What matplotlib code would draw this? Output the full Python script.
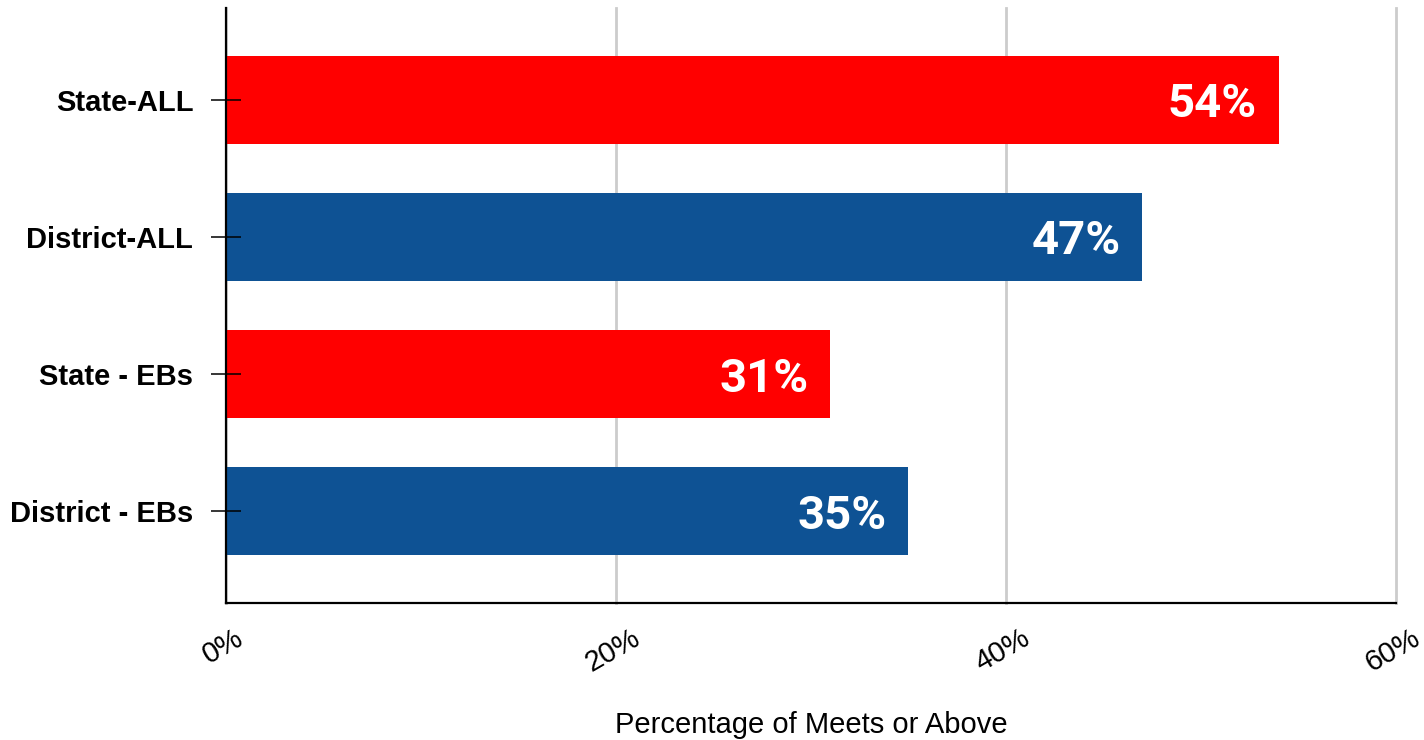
import matplotlib.pyplot as plt
from matplotlib.ticker import FuncFormatter
import matplotlib.transforms as mtransforms

# ── Data ──────────────────────────────────────────────────────────────────────
groups = ["State-ALL", "District-ALL", "State - EBs", "District - EBs"]
pct_meets = [54, 47, 31, 35]
bar_colors = ["#FF0000", "#0E5294", "#FF0000", "#0E5294"]
x_ticks = [0, 20, 40, 60]

fig = plt.figure(figsize=(14.24, 7.40), dpi=100)
ax = fig.add_axes([0.1587, 0.1851, 0.8216, 0.8041])

y_pos = list(range(len(groups)))
ax.barh(y_pos, pct_meets, height=0.64, color=bar_colors, zorder=3)

# value labels inside the bar ends
for y, v in zip(y_pos, pct_meets):
    ax.annotate(f"{v}%", xy=(v, y), xytext=(-22, 0), textcoords="offset pixels",
                ha="right", va="center_baseline", color="white",
                fontsize=34, fontweight="bold", family=["Roboto", "DejaVu Sans"],
                zorder=4)

ax.set_xlim(0, 60)
ax.set_ylim(3.67, -0.67)
ax.set_xticks(x_ticks)
ax.xaxis.set_major_formatter(FuncFormatter(lambda v, _: f"{v:.0f}%"))
ax.set_yticks(y_pos)
ax.set_yticklabels(groups)

# grid behind the bars, y ticks crossing over them
ax.grid(axis="x", color="#CCCCCC", lw=2)
ax.xaxis.set_zorder(0.5)
ax.yaxis.set_zorder(5)
for gl in ax.get_xgridlines():
    gl.set_clip_on(False)

ax.spines[["top", "right"]].set_visible(False)
ax.spines["left"].set_linewidth(1.6)
ax.spines["bottom"].set_linewidth(1.6)
ax.spines["left"].set_zorder(5)
ax.spines["bottom"].set_zorder(5)

ax.tick_params(axis="y", direction="inout", length=21, width=1.1, pad=13)
ax.tick_params(axis="x", length=0, pad=15)
for lbl in ax.get_yticklabels():
    lbl.set_fontsize(21)
    lbl.set_fontweight("bold")
    lbl.set_family(["Liberation Sans", "DejaVu Sans"])

shift = mtransforms.ScaledTranslation(-3 / 100, 0, fig.dpi_scale_trans)
for lbl in ax.get_xticklabels():
    lbl.set_fontsize(21)
    lbl.set_rotation(30)
    lbl.set_ha("center")
    lbl.set_family(["Liberation Sans", "DejaVu Sans"])
    lbl.set_transform(lbl.get_transform() + shift)

ax.set_xlabel("Percentage of Meets or Above", fontsize=21, labelpad=24,
              family=["Liberation Sans", "DejaVu Sans"])

fig.savefig("out.png", dpi=100)
